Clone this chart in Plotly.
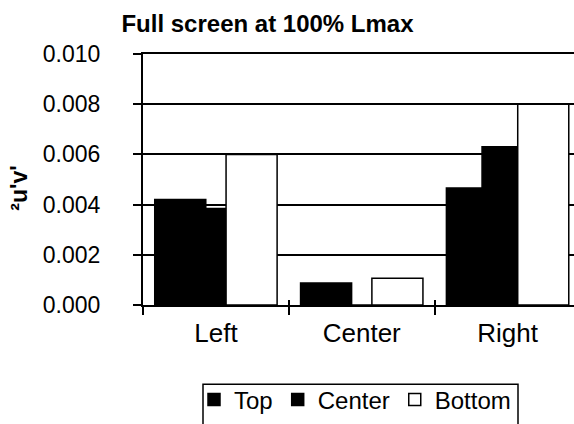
import plotly.graph_objects as go

categories = ["Left", "Center", "Right"]
series_names = ["Top", "Center", "Bottom"]
top_vals = [0.0042, 0.00088, 0.00466]
center_vals = [0.00384, 0.0, 0.0063]
bottom_vals = [0.0060, 0.00107, 0.0080]
y_ticks = [0.000, 0.002, 0.004, 0.006, 0.008, 0.010]
y_ticktext = ["0.000", "0.002", "0.004", "0.006", "0.008", "0.010"]
y_title = "²u'v'"
chart_title = "Full screen at 100% Lmax"

FONT = "Arial, Liberation Sans, sans-serif"
fills = ["black", "black", "white"]
offsets = [-0.4195, -0.175, 0.0696]
bar_w = 0.35

fig = go.Figure()
for name, vals, fc, off in zip(series_names, [top_vals, center_vals, bottom_vals], fills, offsets):
    fig.add_trace(go.Bar(
        x=categories, y=vals, name=name,
        offset=off, width=bar_w,
        marker=dict(color=fc, line=dict(color="black", width=1.5)),
    ))
# helper trace so the overlay axes (inner half of crossing ticks) are drawn
fig.add_trace(go.Scatter(x=[], y=[], xaxis="x2", yaxis="y2", showlegend=False, hoverinfo="skip"))

W, H = 574, 424
L, R, T, B = 143, 0, 54, 118.5
PW, PH = W - L - R, H - T - B
cat_w = 145.83
x_range = [-0.5, -0.5 + PW / cat_w]
y_range = [0, 0.010]

def px_x(px):
    return (px - L) / PW

def px_y(py):
    return (H - B - py) / PH

fig.update_layout(
    width=W, height=H,
    margin=dict(l=L, r=R, t=T, b=B, autoexpand=False),
    paper_bgcolor="white", plot_bgcolor="white",
    barmode="overlay",
    font=dict(family=FONT, color="black", size=24),
    title=dict(text="<b>" + chart_title + "</b>", x=267.5 / W, xanchor="center",
               xref="container", yref="container", y=1 - 24 / H, yanchor="middle",
               font=dict(family=FONT, size=24, color="black")),
    xaxis=dict(type="category", range=x_range, showgrid=False, zeroline=False,
               showline=True, linecolor="black", linewidth=2, mirror=True,
               ticks="outside", ticklen=8, tickwidth=2, tickcolor="black",
               tickson="boundaries", ticklabelstandoff=4,
               tickfont=dict(size=26)),
    yaxis=dict(range=y_range, tickvals=y_ticks, ticktext=y_ticktext,
               showgrid=True, gridcolor="black", gridwidth=2, zeroline=False,
               showline=True, linecolor="black", linewidth=2,
               ticks="outside", ticklen=8, tickwidth=2, tickcolor="black",
               ticklabelstandoff=28, tickfont=dict(size=23)),
    xaxis2=dict(overlaying="x", anchor="y2", range=x_range, tickvals=[-0.5, 0.5, 1.5, 2.5],
                showticklabels=False, showgrid=False, zeroline=False, showline=False,
                ticks="inside", ticklen=5, tickwidth=2, tickcolor="black"),
    yaxis2=dict(overlaying="y", anchor="x2", range=y_range, tickvals=y_ticks,
                showticklabels=False, showgrid=False, zeroline=False, showline=False,
                ticks="inside", ticklen=5, tickwidth=2, tickcolor="black"),
    legend=dict(orientation="h", x=px_x(194), xanchor="left",
                y=px_y(378), yanchor="top",
                borderwidth=0, bgcolor="rgba(0,0,0,0)",
                font=dict(size=24), itemwidth=30, traceorder="normal"),
    showlegend=True,
    annotations=[dict(text="<b>" + y_title + "</b>", textangle=-90, showarrow=False,
                      xref="paper", yref="paper", x=px_x(19), y=px_y(189),
                      xanchor="center", yanchor="middle", font=dict(size=23))],
    shapes=[dict(type="rect", xref="paper", yref="paper",
                 x0=px_x(203), x1=px_x(518), y0=px_y(385), y1=px_y(440),
                 line=dict(color="black", width=1.5), fillcolor="rgba(0,0,0,0)")],
)

fig.write_html("out.html", post_script="document.body.style.margin='0';",
               config={"displayModeBar": False})
